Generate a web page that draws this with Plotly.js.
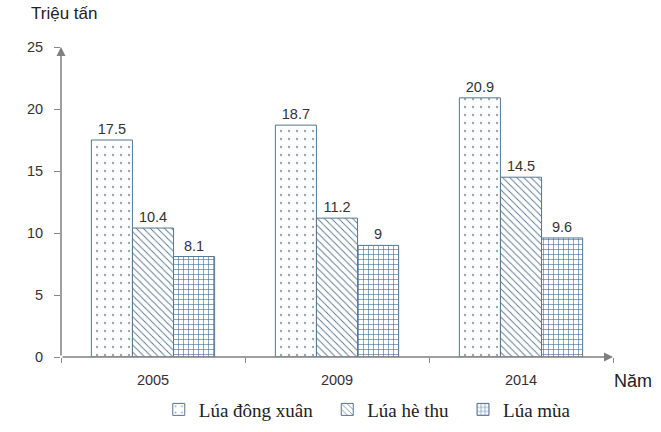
<!DOCTYPE html>
<html>
<head>
<meta charset="utf-8">
<script src="https://cdn.plot.ly/plotly-3.0.1.min.js"></script>
<style>
  html, body { margin: 0; padding: 0; background: #fff; }
  #chart { width: 661px; height: 432px; }
</style>
</head>
<body>
<div id="chart"></div>
<script>
// số liệu sản lượng lúa (triệu tấn)
let years = ['2005', '2009', '2014'];
let dongXuan = [17.5, 18.7, 20.9];
let heThu = [10.4, 11.2, 14.5];
let luaMua = [8.1, 9, 9.6];
let seriesNames = ['Lúa đông xuân', 'Lúa hè thu', 'Lúa mùa'];
let yTicks = [0, 5, 10, 15, 20, 25];

let edge = '#56758f';
let labelFont = {family: 'Liberation Sans, Arial, sans-serif', size: 14.5, color: '#333'};

function makeBar(name, vals, pat) {
    return {
        type: 'bar',
        name: name + '\u00a0\u00a0',
        x: years,
        y: vals,
        text: vals.map(v => String(v)),
        textposition: 'outside',
        cliponaxis: false,
        textfont: labelFont,
        marker: {
            color: '#ffffff',
            line: {color: edge, width: 1},
            pattern: pat
        }
    };
}

let data = [
    makeBar(seriesNames[0], dongXuan, {shape: '.', fgcolor: '#9aa8b4', bgcolor: '#fff', size: 8, solidity: 0.07}),
    makeBar(seriesNames[1], heThu, {shape: '\\', fgcolor: '#5a7590', bgcolor: '#fff', size: 5, solidity: 0.18}),
    makeBar(seriesNames[2], luaMua, {shape: '+', fgcolor: '#3d6591', bgcolor: '#fff', size: 5, solidity: 0.22})
];

let layout = {
    width: 661,
    height: 432,
    margin: {l: 61, r: 48, t: 47, b: 75, autoexpand: false},
    paper_bgcolor: '#fff',
    plot_bgcolor: '#fff',
    barmode: 'group',
    bargap: 0.33,
    bargroupgap: 0,
    showlegend: true,
    legend: {
        orientation: 'h',
        x: 0.563, xanchor: 'center',
        yref: 'container',
        y: 0.008, yanchor: 'bottom',
        font: {family: 'Liberation Serif, Times New Roman, serif', size: 19, color: '#222'},
        itemwidth: 30,
        tracegroupgap: 0
    },
    xaxis: {
        type: 'category',
        showline: false,
        ticks: 'outside',
        tickson: 'boundaries',
        ticklen: 5,
        tickcolor: '#888',
        tickfont: labelFont,
        ticklabelstandoff: 12,
        showgrid: false,
        zeroline: false
    },
    yaxis: {
        range: [0, 25],
        tickvals: yTicks,
        ticks: 'outside',
        ticklen: 6,
        tickcolor: '#888',
        tickfont: labelFont,
        ticklabelstandoff: 8,
        showgrid: false,
        showline: false,
        zeroline: false
    },
    annotations: [
        // trục tung có mũi tên
        {xref: 'paper', yref: 'paper', axref: 'paper', ayref: 'paper',
         x: 0, y: 1.0, ax: 0, ay: 0, showarrow: true, arrowhead: 2, arrowsize: 1.2,
         arrowwidth: 1.5, arrowcolor: '#808080', text: ''},
        // trục hoành có mũi tên
        {xref: 'paper', yref: 'paper', axref: 'paper', ayref: 'paper',
         x: 1.0, y: 0, ax: 0, ay: 0, showarrow: true, arrowhead: 2, arrowsize: 1.2,
         arrowwidth: 1.5, arrowcolor: '#808080', text: ''},
        {xref: 'paper', yref: 'paper', x: -0.058, y: 1.07, xanchor: 'left', yanchor: 'bottom',
         showarrow: false, text: 'Triệu tấn',
         font: {family: 'Liberation Sans, Arial, sans-serif', size: 17, color: '#222'}},
        {xref: 'paper', yref: 'paper', x: 0.998, y: -0.04, xanchor: 'left', yanchor: 'top',
         showarrow: false, text: 'Năm',
         font: {family: 'Liberation Sans, Arial, sans-serif', size: 18, color: '#222'}}
    ]
};

Plotly.newPlot('chart', data, layout, {displayModeBar: false, staticPlot: true});
</script>
</body>
</html>
